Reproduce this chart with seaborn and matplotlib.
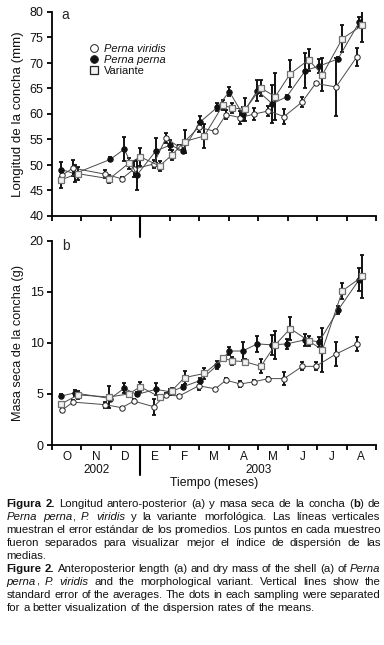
import re
import numpy as np
import pandas as pd
import matplotlib
matplotlib.use("Agg")
import matplotlib.pyplot as plt
import seaborn as sns
from matplotlib import font_manager
from matplotlib.lines import Line2D
from matplotlib.transforms import blended_transform_factory

# ---------------- data ----------------
meses_viridis = [0.34, 0.71, 1.80, 2.37, 2.78, 3.45, 3.87, 4.32, 4.98, 5.54, 5.91, 6.39, 6.87, 7.35, 7.88, 8.50, 8.95, 9.64, 10.35]
long_viridis = [48.0, 49.4, 48.2, 47.3, 49.2, 50.2, 55.3, 53.5, 57.4, 56.6, 59.9, 59.3, 60.0, 60.6, 59.5, 62.4, 66.0, 65.3, 71.2]
long_viridis_ee = [0.6, 1.5, 0.8, 0.4, 1.5, 0.8, 1.0, 0.4, 1.0, 0.2, 0.8, 1.3, 1.1, 1.0, 1.4, 1.0, 0.3, 5.6, 1.7]
masa_viridis = [3.4, 4.2, 3.95, 3.65, 4.3, 3.75, 4.9, 4.8, 5.8, 5.5, 6.35, 5.97, 6.2, 6.5, 6.5, 7.7, 7.7, 8.9, 9.9]
masa_viridis_ee = [0.2, 0.2, 0.3, 0.1, 0.2, 0.8, 0.2, 0.1, 0.4, 0.1, 0.2, 0.3, 0.2, 0.2, 0.6, 0.4, 0.4, 1.2, 0.7]

meses_perna = [0.32, 0.77, 1.98, 2.45, 2.88, 3.53, 4.02, 4.45, 5.02, 5.61, 6.02, 6.47, 6.97, 7.48, 7.97, 8.60, 9.07, 9.71, 10.43]
long_perna = [49.1, 48.3, 51.1, 53.1, 48.0, 52.8, 53.9, 52.8, 58.4, 61.3, 64.4, 60.0, 64.6, 62.0, 63.4, 68.5, 69.4, 70.8, 78.0]
long_perna_ee = [1.4, 1.7, 0.4, 2.3, 3.0, 2.5, 1.0, 0.5, 1.3, 0.8, 0.9, 1.4, 2.0, 3.7, 0.4, 3.5, 1.4, 0.3, 1.0]
masa_perna = [4.8, 5.1, 4.55, 5.55, 4.95, 5.45, 5.2, 5.7, 6.3, 7.8, 9.2, 9.2, 9.9, 9.8, 9.9, 10.3, 10.1, 13.2, 16.2]
masa_perna_ee = [0.2, 0.3, 0.2, 0.5, 0.2, 0.6, 0.3, 0.2, 0.3, 0.4, 0.4, 0.9, 0.8, 1.0, 0.5, 0.6, 0.5, 0.4, 1.1]

meses_variante = [0.30, 0.88, 1.95, 2.60, 3.00, 3.65, 4.06, 4.50, 5.17, 5.80, 6.12, 6.56, 7.09, 7.58, 8.09, 8.71, 9.18, 9.86, 10.54]
long_variante = [47.1, 48.3, 47.3, 50.3, 51.6, 49.8, 51.9, 54.6, 55.7, 61.7, 61.2, 60.9, 65.1, 63.4, 67.9, 70.6, 67.7, 74.8, 77.4]
long_variante_ee = [1.6, 1.3, 0.8, 1.0, 1.7, 0.9, 1.0, 2.2, 2.3, 1.0, 1.0, 2.2, 1.6, 4.6, 2.7, 2.2, 3.2, 2.7, 3.3]
masa_variante = [4.0, 4.9, 4.7, 5.0, 5.7, 4.7, 5.3, 6.6, 7.0, 8.5, 8.25, 8.15, 7.7, 9.8, 11.4, 10.2, 9.3, 15.1, 16.5]
masa_variante_ee = [0.2, 0.4, 1.1, 0.2, 0.5, 0.2, 0.3, 0.6, 0.5, 0.2, 0.4, 0.3, 0.7, 1.4, 1.1, 0.5, 2.2, 0.8, 2.1]

especies = ["Perna viridis", "Perna perna", "Variante"]
meses_etiquetas = ["O", "N", "D", "E", "F", "M", "A", "M", "J", "J", "A"]
anios = ["2002", "2003"]

# ---------------- style ----------------
sns.set_theme(style="ticks")
plt.rcParams["font.family"] = ["Liberation Sans", "DejaVu Sans"]
plt.rcParams["axes.linewidth"] = 1.3

instaladas = {f.name for f in font_manager.fontManager.ttflist}
if "Liberation Sans Narrow" in instaladas:
    cap_family = ["Liberation Sans Narrow", "Liberation Sans", "DejaVu Sans"]
    cap_size = 9.2
else:
    cap_family = ["Liberation Sans", "DejaVu Sans"]
    cap_size = 8.2

W, H = 384, 645
fig = plt.figure(figsize=(W / 100, H / 100), dpi=100)
fig.patch.set_facecolor("white")

ax1 = fig.add_axes([52 / W, 1 - 216 / H, 324 / W, 204 / H])
ax2 = fig.add_axes([52 / W, 1 - 445 / H, 324 / W, 204.3 / H])

estilos = {
    "Perna viridis": dict(marker="o", markerfacecolor="white", markeredgecolor="#222222",
                          markersize=3.9, markeredgewidth=0.7),
    "Perna perna": dict(marker="o", markerfacecolor="#111111", markeredgecolor="#111111",
                        markersize=4.0, markeredgewidth=0.6),
    "Variante": dict(marker="s", markerfacecolor="#f2f2f2", markeredgecolor="#707070",
                     markersize=4.5, markeredgewidth=0.9),
}

series_top = {
    "Perna viridis": (meses_viridis, long_viridis, long_viridis_ee),
    "Perna perna": (meses_perna, long_perna, long_perna_ee),
    "Variante": (meses_variante, long_variante, long_variante_ee),
}
series_bot = {
    "Perna viridis": (meses_viridis, masa_viridis, masa_viridis_ee),
    "Perna perna": (meses_perna, masa_perna, masa_perna_ee),
    "Variante": (meses_variante, masa_variante, masa_variante_ee),
}


def dibujar(ax, series):
    for esp in especies:
        m, v, e = series[esp]
        df = pd.DataFrame({"mes": m, "valor": v})
        ax.errorbar(df["mes"], df["valor"], yerr=e, fmt="none", ecolor="#111111",
                    elinewidth=1.4, capsize=1.6, capthick=1.3, zorder=2)
        sns.lineplot(data=df, x="mes", y="valor", ax=ax, color="#4a4a4a", linewidth=0.7,
                     estimator=None, sort=False, zorder=3, **estilos[esp])


dibujar(ax1, series_top)
dibujar(ax2, series_bot)

for ax in (ax1, ax2):
    sns.despine(ax=ax)
    ax.set_xlim(0, 11)
    ax.set_xticks(np.arange(0, 12))
    ax.set_xticklabels([])
    ax.tick_params(axis="both", which="major", direction="out", length=3.5, width=1.3,
                   color="black", labelsize=9, pad=2.5, labelcolor="#111111")
    ax.set_xlabel("")
    ax.set_facecolor("white")
    for s in ax.spines.values():
        s.set_color("black")

ax1.set_ylim(40, 80)
ax1.set_yticks(np.arange(40, 81, 5))
ax2.set_ylim(0, 20)
ax2.set_yticks(np.arange(0, 21, 5))

ax1.set_ylabel("Longitud de la concha (mm)", fontsize=9.6, color="#111111")
ax2.set_ylabel("Masa seca de la concha (g)", fontsize=9.2, color="#111111")
ax1.yaxis.set_label_coords(-0.086, 0.5)
ax2.yaxis.set_label_coords(-0.086, 0.5)

ax1.text(0.03, 0.985, "a", transform=ax1.transAxes, fontsize=10, va="center", ha="left")
ax2.text(0.03, 0.974, "b", transform=ax2.transAxes, fontsize=10, va="center", ha="left")

# month labels (minor ticks, between major ticks)
ax2.set_xticks(np.arange(0.5, 11, 1), minor=True)
ax2.set_xticklabels(meses_etiquetas, minor=True)
ax2.tick_params(axis="x", which="minor", length=0, labelsize=8.5, pad=4, labelcolor="#111111")
ax1.tick_params(axis="x", which="minor", length=0)

# year separators
t1 = blended_transform_factory(ax1.transData, ax1.transAxes)
ax1.plot([3, 3], [0, -0.103], transform=t1, color="black", lw=1.5, clip_on=False)
t2 = blended_transform_factory(ax2.transData, ax2.transAxes)
ax2.plot([3, 3], [0, -0.147], transform=t2, color="black", lw=1.5, clip_on=False)
ax2.text(1.5, -0.122, anios[0], transform=t2, ha="center", va="center", fontsize=8.5, color="#111111")
ax2.text(7.0, -0.122, anios[1], transform=t2, ha="center", va="center", fontsize=8.5, color="#111111")
ax2.text(5.5, -0.186, "Tiempo (meses)", transform=t2, ha="center", va="center", fontsize=8.8,
         color="#111111")

# legend
handles = [Line2D([], [], linestyle="none", **{**estilos[e], "markersize": 5.6,
                                               "markeredgecolor": "#222222"}) for e in especies]
leg = ax1.legend(handles, especies, loc="upper left", bbox_to_anchor=(0.115, 0.845),
                 frameon=False, handlelength=0.8, handletextpad=0.55, labelspacing=0.12,
                 fontsize=8, borderaxespad=0, borderpad=0)
for t, st in zip(leg.get_texts(), ["italic", "italic", "normal"]):
    t.set_style(st)
    t.set_color("#111111")

# ---------------- caption (justified) ----------------
caption = [
    ("{b:Figura} {b:2.} Longitud antero-posterior (a) y masa seca de la concha ({b:b}) de", True),
    ("{i:Perna} {i:perna}, {i:P.} {i:viridis} y la variante morfológica. Las líneas verticales", True),
    ("muestran el error estándar de los promedios. Los puntos en cada muestreo", True),
    ("fueron separados para visualizar mejor el índice de dispersión de las", True),
    ("medias.", False),
    ("{b:Figure} {b:2.} Anteroposterior length (a) and dry mass of the shell (a) of {i:Perna}", True),
    ("{i:perna}, {i:P.} {i:viridis} and the morphological variant. Vertical lines show the", True),
    ("standard error of the averages. The dots in each sampling were separated", True),
    ("for a better visualization of the dispersion rates of the means.", False),
]
baselines = [507.0, 520.2, 533.1, 546.0, 558.8, 572.0, 585.0, 597.9, 610.7]
x_left, x_right = 6.7, 380.5
renderer = fig.canvas.get_renderer()


def seg_props(st):
    p = dict(family=cap_family, fontsize=cap_size)
    if st == "b":
        p["fontweight"] = "bold"
    if st == "i":
        p["style"] = "italic"
    return p


def parse_word(w):
    segs = []
    pos = 0
    for mt in re.finditer(r"\{([bi]):([^}]*)\}", w):
        if mt.start() > pos:
            segs.append((w[pos:mt.start()], "n"))
        segs.append((mt.group(2), mt.group(1)))
        pos = mt.end()
    if pos < len(w):
        segs.append((w[pos:], "n"))
    return segs


def width_px(s, st):
    t = fig.text(0, 0, s, **seg_props(st))
    wd = t.get_window_extent(renderer).width
    t.remove()
    return wd


space_px = width_px("a a", "n") - width_px("aa", "n")

for (line, justify), yb in zip(caption, baselines):
    words = [parse_word(w) for w in line.split(" ")]
    widths = [[width_px(s, st) for s, st in w] for w in words]
    total = sum(sum(w) for w in widths)
    if justify and len(words) > 1:
        gap = max((x_right - x_left - total) / (len(words) - 1), space_px * 0.6)
    else:
        gap = space_px
    x = x_left
    for w, ws in zip(words, widths):
        for (s, st), sw in zip(w, ws):
            fig.text(x / W, 1 - yb / H, s, ha="left", va="baseline",
                     color="#111111", **seg_props(st))
            x += sw
        x += gap

fig.savefig("out.png", dpi=100, facecolor="white")
